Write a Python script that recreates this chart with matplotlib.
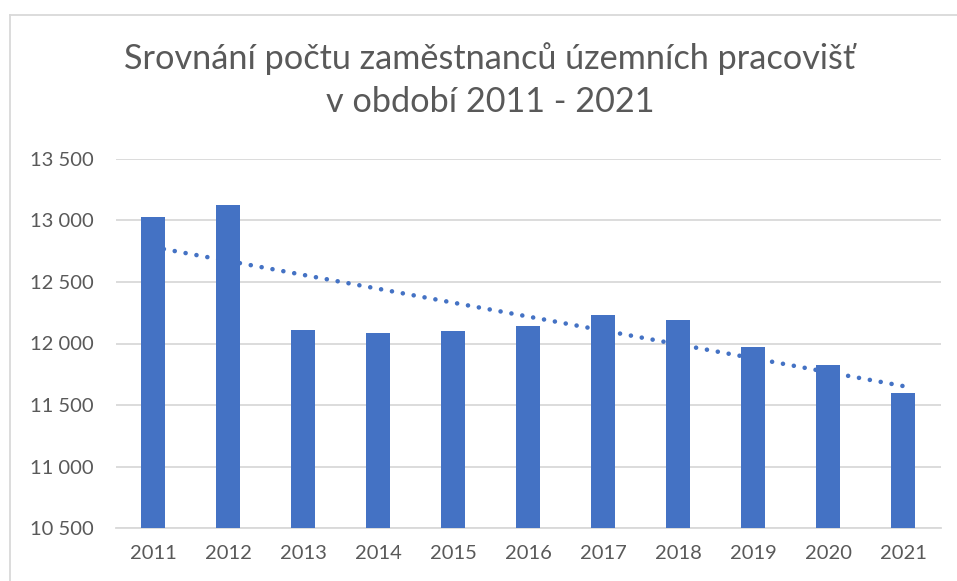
import matplotlib
matplotlib.use('Agg')
import matplotlib.pyplot as plt
from matplotlib.ticker import FuncFormatter, MultipleLocator
from matplotlib.lines import Line2D
import numpy as np

# data
years = ['2011', '2012', '2013', '2014', '2015', '2016', '2017', '2018', '2019', '2020', '2021']
employees = [13027, 13124, 12109, 12087, 12103, 12141, 12231, 12190, 11970, 11826, 11600]
title_lines = ['Srovnání počtu zaměstnanců územních pracovišť', 'v období 2011 - 2021']

bar_color = '#4472C4'
text_color = '#595959'
grid_color = '#D9D9D9'

plt.rcParams['font.family'] = ['Lato', 'DejaVu Sans']

W, H = 957, 581
fig = plt.figure(figsize=(W / 100, H / 100), dpi=100)
ax = fig.add_axes([115.5 / W, (H - 528.3) / H, (940.5 - 115.5) / W, (528.3 - 158.7) / H])

x = np.arange(len(years))
ax.bar(x, employees, width=0.32, color=bar_color, zorder=3)

# linear trendline (drawn behind the bars, as in the reference)
k, q = np.polyfit(x, employees, 1)
ax.plot(x[[0, -1]], k * x[[0, -1]] + q, color=bar_color, lw=3.3,
	linestyle=(0, (0.01, 2.4)), dash_capstyle='round', zorder=2)

ax.set_xlim(-0.5, len(years) - 0.5)
ax.set_ylim(10500, 13500)
ax.yaxis.set_major_locator(MultipleLocator(500))
ax.yaxis.set_major_formatter(FuncFormatter(lambda v, p: f'{v:,.0f}'.replace(',', ' ')))
ax.set_xticks(x)
ax.set_xticklabels(years)

ax.yaxis.grid(True, color=grid_color, linewidth=1.3, zorder=0)
ax.set_axisbelow(True)
for s in ['top', 'right', 'left']:
	ax.spines[s].set_visible(False)
ax.spines['bottom'].set_color(grid_color)
ax.spines['bottom'].set_linewidth(1.3)
ax.tick_params(axis='both', length=0, colors=text_color, labelsize=14.5)
ax.tick_params(axis='y', pad=16)
ax.tick_params(axis='x', pad=12)

fig.text(490 / W, 1 - 59 / H, title_lines[0], ha='center', va='center',
	fontsize=24.7, color=text_color)
fig.text(490 / W, 1 - 102 / H, title_lines[1], ha='center', va='center',
	fontsize=24.7, color=text_color)

# chart-area border (left and top edges visible in the reference)
fig.add_artist(Line2D([10 / W, 10 / W], [0, 1 - 15 / H], transform=fig.transFigure,
	color=grid_color, lw=1.3))
fig.add_artist(Line2D([10 / W, 1], [1 - 15 / H, 1 - 15 / H], transform=fig.transFigure,
	color=grid_color, lw=1.3))

fig.savefig('out.png', dpi=100)
plt.close()
